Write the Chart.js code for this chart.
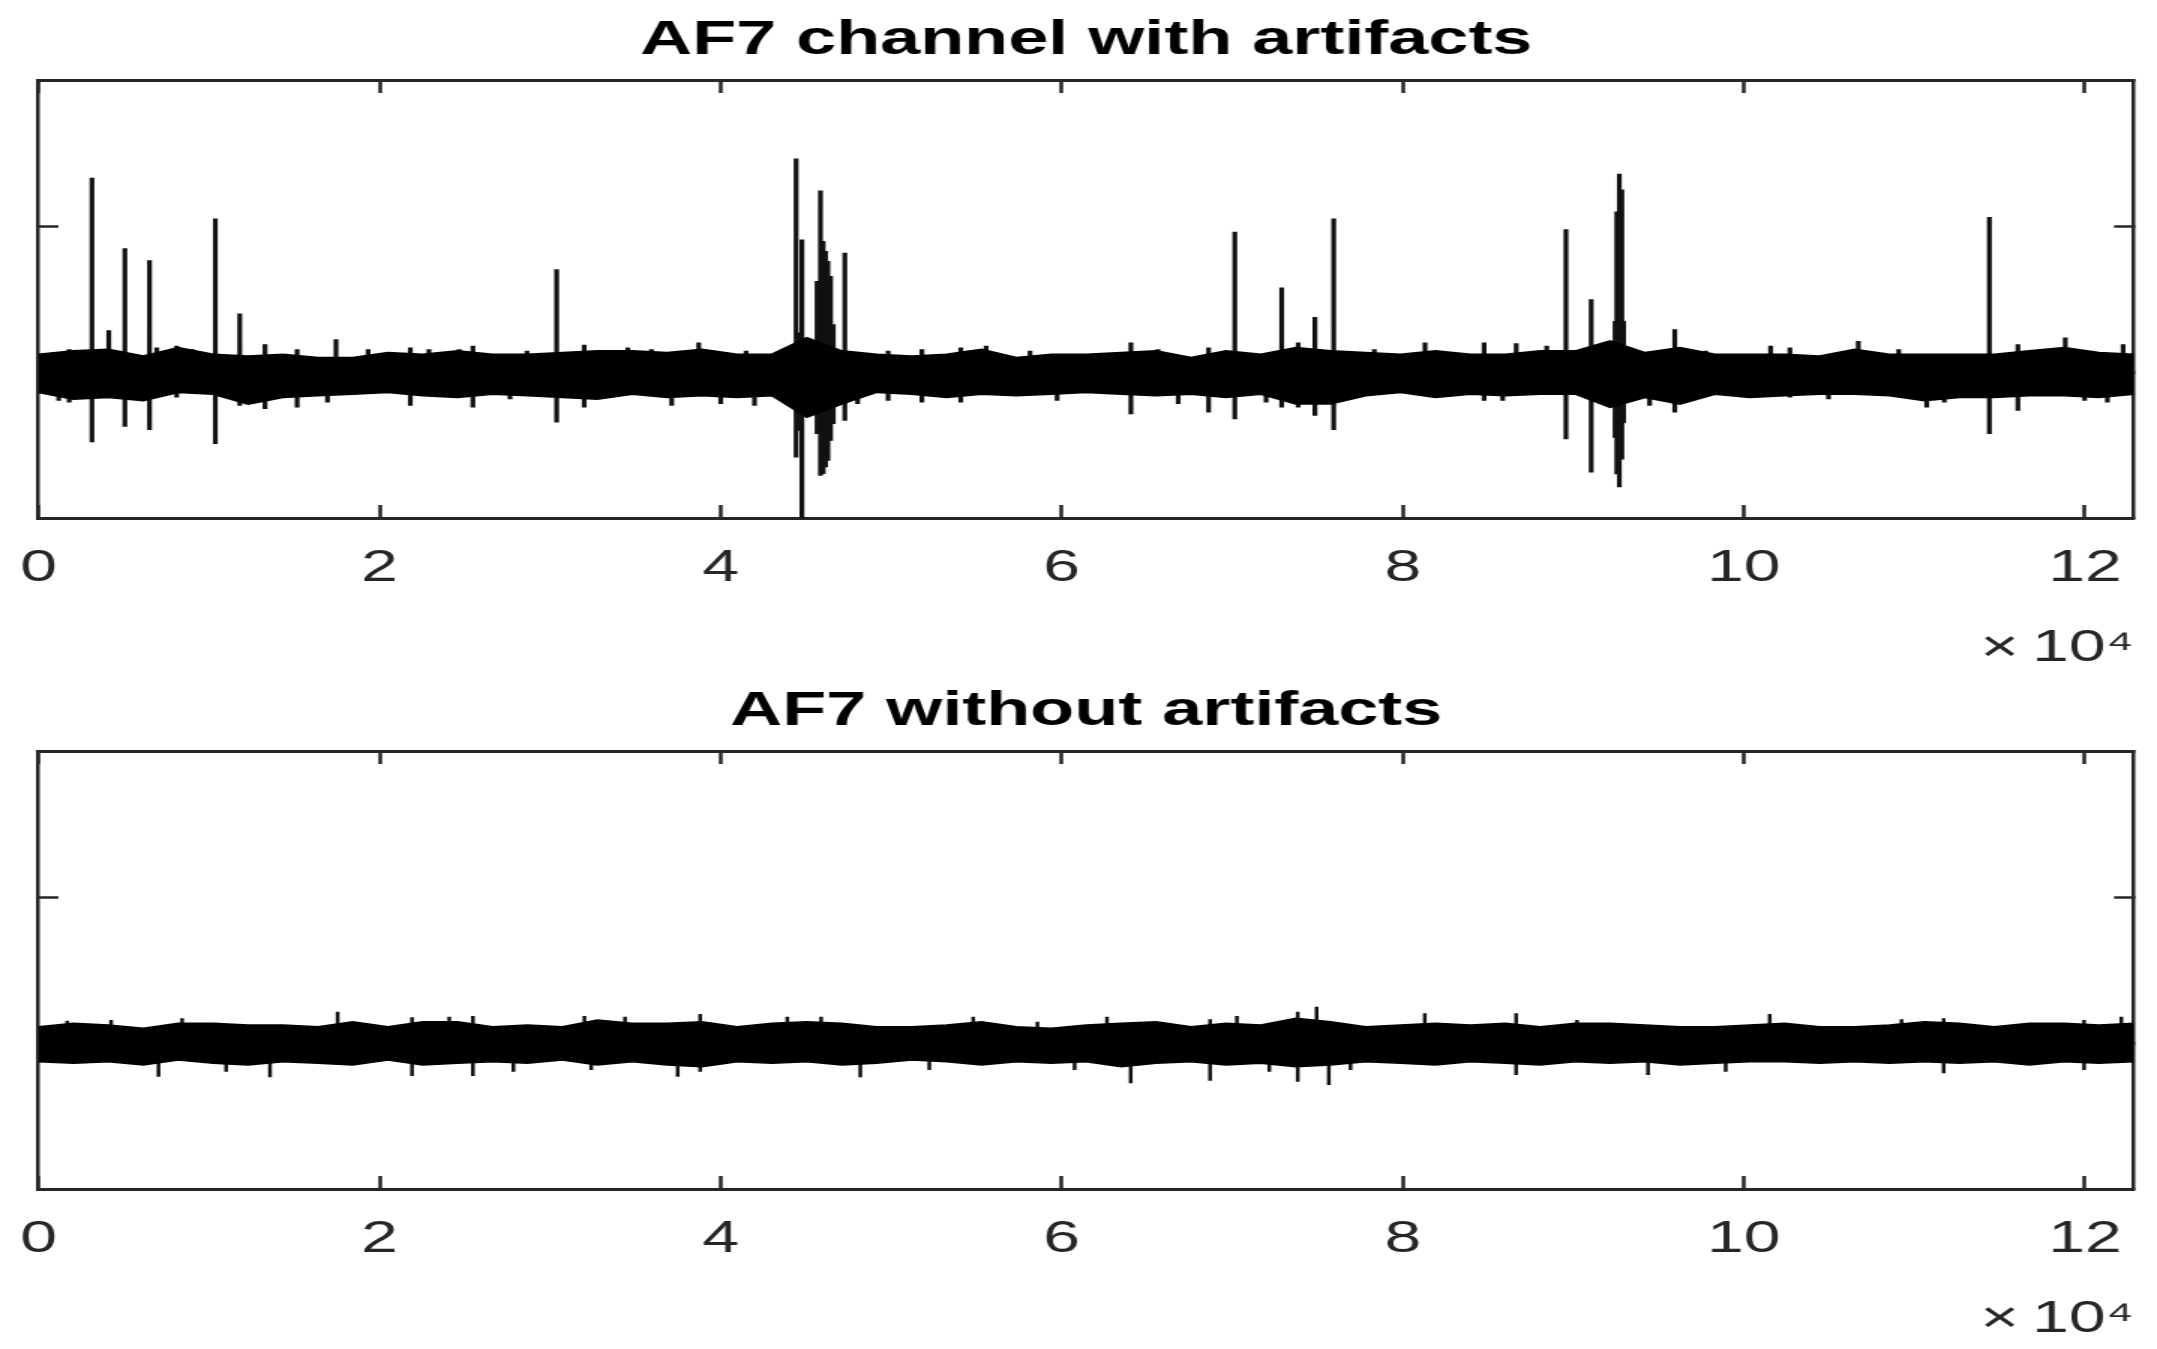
<!DOCTYPE html>
<html>
<head>
<meta charset="utf-8">
<title>AF7 channel</title>
<script src="https://cdn.jsdelivr.net/npm/chart.js@4/dist/chart.umd.min.js"></script>
<style>
  html, body { margin: 0; padding: 0; background: #fff; overflow: hidden; }
  body { width: 2157px; height: 1349px; position: relative; }
  /* the source figure is stretched sideways, so the canvases are too */
  canvas { position: absolute; left: 0; transform: scaleX(1.5); transform-origin: 0 0; }
  #topChart { top: 0; }
  #bottomChart { top: 671px; }
</style>
</head>
<body>
<canvas id="topChart" width="1438" height="675" style="width:1438px;height:675px"></canvas>
<canvas id="bottomChart" width="1438" height="675" style="width:1438px;height:675px"></canvas>
<script>
const xTickValues = [0, 20000, 40000, 60000, 80000, 100000, 120000];
const xTickLabels = ["0", "2", "4", "6", "8", "10", "12"];
const yTickValues = [-1000, 0, 1000, 2000];
const sampleCount = 122880;
const envStep = 2048; // envelope read every 2048 samples

// AF7 with artifacts: band envelope
const topUpper = [122, 145, 155, 110, 167, 122, 110, 122, 99, 99, 133, 122, 145, 122, 122,
  133, 145, 145, 133, 155, 122, 122, 236, 145, 122, 110, 122, 155, 99, 122,
  122, 133, 145, 99, 145, 122, 167, 145, 133, 122, 145, 122, 122, 145, 145,
  213, 133, 167, 122, 122, 122, 110, 155, 122, 122, 122, 122, 145, 167, 133, 122];
const topLower = [-140, -186, -175, -197, -140, -152, -220, -175, -163, -152, -140, -163, -175, -152, -163,
  -175, -186, -152, -175, -163, -175, -163, -311, -220, -140, -152, -175, -152, -163, -152,
  -140, -152, -163, -152, -175, -152, -220, -220, -163, -140, -175, -152, -163, -152, -152,
  -243, -175, -220, -152, -175, -163, -152, -152, -163, -197, -175, -175, -163, -163, -175, -152];

// AF7 with artifacts: spikes (sample, low, high)
const topSpikeX = [1185, 1800, 3135, 4121, 5064, 6510, 6937, 8100, 9019, 10369,
  11800, 13282, 15165, 16947, 17446, 19327, 21803, 22893, 24676, 25473,
  27649, 28646, 30382, 32000, 34556, 35942, 37130, 38714, 40005, 41493,
  41986, 44426, 44600, 44766, 45655, 45854, 46012, 46151, 46290, 46448,
  46607, 47282, 48033, 49820, 51802, 54083, 55568, 58143, 59731, 64058,
  65642, 66833, 68614, 70150, 71987, 72900, 73868, 74850, 75950, 78333,
  81304, 84770, 85861, 86653, 88441, 89570, 91050, 92450, 92550, 92700,
  92850, 92950, 94475, 95950, 97766, 101570, 102702, 104966, 106713, 109082,
  110724, 111756, 114400, 116072, 117720, 118852, 119984, 121320, 122242];
const topSpikeLo = [-197, -209, -482, -150, -375, -398, 0, -175, 0, -494,
  -232, -254, -243, -209, 0, 0, -232, 0, 0, -243,
  -186, 0, -346, -243, 0, 0, -232, 0, -220, 0,
  -232, -585, -403, -1000, -425, -710, -699, -653, -608, -471,
  -357, -334, -220, -197, -209, -209, 0, 0, -197, -289,
  0, -220, -277, -323, -209, -243, -243, -300, -398, 0,
  0, -197, -197, 0, 0, -460, -688, -450, -700, -790,
  -600, -350, -232, -277, 0, 0, -175, -186, 0, 0,
  -243, -209, -425, -266, 0, 0, -197, -209, 0];
const topSpikeHi = [0, 156, 1330, 286, 847, 765, 167, 179, 156, 1052,
  400, 190, 156, 0, 224, 156, 167, 156, 156, 179,
  0, 145, 703, 186, 167, 156, 0, 202, 0, 145,
  0, 1462, 270, 908, 623, 1244, 897, 829, 760, 658,
  327, 817, 0, 145, 156, 167, 179, 145, 0, 202,
  156, 0, 167, 961, 0, 578, 202, 377, 1052, 156,
  202, 202, 0, 197, 179, 977, 498, 350, 1100, 1358,
  1250, 350, 0, 293, 145, 179, 167, 0, 213, 156,
  0, 0, 1061, 190, 156, 236, 0, 0, 190];

// AF7 without artifacts: band envelope
const botUpper = [112, 135, 124, 101, 135, 135, 124, 124, 112, 146, 112, 146, 146, 112, 124,
  112, 158, 135, 135, 146, 112, 135, 146, 135, 112, 112, 124, 146, 112, 101,
  124, 135, 146, 112, 135, 124, 169, 146, 112, 124, 135, 124, 135, 112, 135,
  135, 124, 112, 112, 124, 135, 112, 112, 124, 146, 135, 112, 135, 135, 124, 135];
const botLower = [-128, -139, -128, -151, -116, -139, -151, -128, -139, -151, -116, -151, -139, -128, -139,
  -116, -151, -128, -151, -162, -128, -139, -128, -151, -139, -116, -128, -151, -128, -139,
  -128, -162, -139, -128, -151, -139, -162, -151, -128, -139, -151, -128, -139, -151, -128,
  -139, -128, -151, -139, -128, -128, -139, -128, -139, -128, -139, -128, -151, -128, -139, -128];

// AF7 without artifacts: small excursions
const botSpikeX = [1683, 4257, 7037, 8421, 11001, 13575, 17540, 21902, 24085, 25473, 27849, 32012,
  32411, 34393, 37483, 38800, 43910, 45893, 48190, 52236, 54811, 58577, 60757, 62657, 64047,
  68700, 70274, 72174, 73840, 74948, 75664, 76936, 81293, 86647, 90218, 94382, 98938, 101518,
  109247, 111720, 119950, 122136];
const botSpikeLo = [0, 0, -231, 0, -197, -235, 0, -226, 0, -226, -197, 0,
  -185, 0, -231, -197, 0, 0, -235, -185, 0, 0, -185, 0, -276,
  -258, 0, -197, -265, 0, -288, -185, 0, -219, 0, -219, -197, 0,
  0, -208, -185, 0];
const botSpikeHi = [153, 158, 0, 169, 0, 0, 214, 176, 180, 185, 0, 185,
  0, 180, 0, 199, 180, 180, 0, 0, 180, 146, 0, 180, 0,
  162, 185, 0, 214, 249, 0, 0, 203, 203, 158, 0, 0, 199,
  162, 169, 158, 180];

const axisColor = "#262626";
Chart.defaults.font.family = "'Liberation Sans', Arial, Helvetica, sans-serif";

function setTicks(values) {
  return (scale) => {
    scale.ticks = values.map((v) => ({ value: v }));
  };
}

function spikeData(xs, lows, highs) {
  const pts = [];
  xs.forEach((x, i) => {
    pts.push({ x: x, y: lows[i] }, { x: x, y: highs[i] }, { x: x, y: null });
  });
  return pts;
}

function frameAxis(position, withLabels) {
  const horizontal = position === "top" || position === "bottom";
  const axis = {
    type: "linear",
    position: position,
    min: horizontal ? 0 : -1000,
    max: horizontal ? sampleCount : 2000,
    offset: false,
    afterBuildTicks: setTicks(horizontal ? xTickValues : yTickValues),
    ticks: { display: false },
    grid: {
      drawOnChartArea: false,
      drawTicks: true,
      offset: false,
      tickLength: horizontal ? -13 : -13.3, // inward ticks
      tickWidth: 2.5,
      tickColor: axisColor,
    },
    border: { display: true, color: axisColor, width: horizontal ? 3 : 2.5 },
  };
  if (withLabels) {
    axis.afterFit = (s) => { s.height = 157; };
    axis.ticks = {
      display: true,
      callback: (v, i) => xTickLabels[i],
      color: axisColor,
      font: { size: 44, lineHeight: 128 / 44 }, // tall line box pushes labels down
      padding: 0,
      autoSkip: false,
      maxRotation: 0,
      minRotation: 0,
    };
    axis.title = {
      display: true,
      text: "\u00d7\u200910\u2074",
      align: "end",
      color: axisColor,
      font: { size: 44 },
      padding: 0,
    };
  } else if (horizontal) {
    axis.afterFit = (s) => { s.height = 0; };
  } else {
    axis.afterFit = (s) => { s.width = 0; };
  }
  return axis;
}

function drawChannel(id, title, upper, lower, sx, slo, shi, spikeWidth) {
  const envX = upper.map((_, i) => i * envStep);
  return new Chart(document.getElementById(id), {
    type: "line",
    data: {
      datasets: [
        {
          data: envX.map((x, i) => ({ x: x, y: upper[i] })),
          borderColor: "#000",
          backgroundColor: "#000",
          borderWidth: 1.5,
          pointRadius: 0,
          tension: 0,
          fill: "+1",
        },
        {
          data: envX.map((x, i) => ({ x: x, y: lower[i] })),
          borderColor: "#000",
          borderWidth: 1.5,
          pointRadius: 0,
          tension: 0,
          fill: false,
        },
        {
          data: spikeData(sx, slo, shi),
          borderColor: "#111",
          borderWidth: spikeWidth,
          pointRadius: 0,
          fill: false,
          spanGaps: false,
        },
      ],
    },
    options: {
      responsive: false,
      animation: false,
      events: [],
      layout: { padding: { left: 25.67, right: 15.33, top: 0, bottom: 0 } },
      plugins: {
        legend: { display: false },
        tooltip: { enabled: false },
        title: {
          display: true,
          text: title,
          color: "#000",
          font: { size: 48, weight: "bold" },
          padding: { top: 12, bottom: 10.4 },
        },
      },
      scales: {
        x: frameAxis("bottom", true),
        x2: frameAxis("top", false),
        y: frameAxis("left", false),
        y2: frameAxis("right", false),
      },
    },
  });
}

drawChannel("topChart", "AF7 channel with artifacts", topUpper, topLower,
  topSpikeX, topSpikeLo, topSpikeHi, 3.2);
drawChannel("bottomChart", "AF7 without artifacts", botUpper, botLower,
  botSpikeX, botSpikeLo, botSpikeHi, 2.5);
</script>
</body>
</html>
